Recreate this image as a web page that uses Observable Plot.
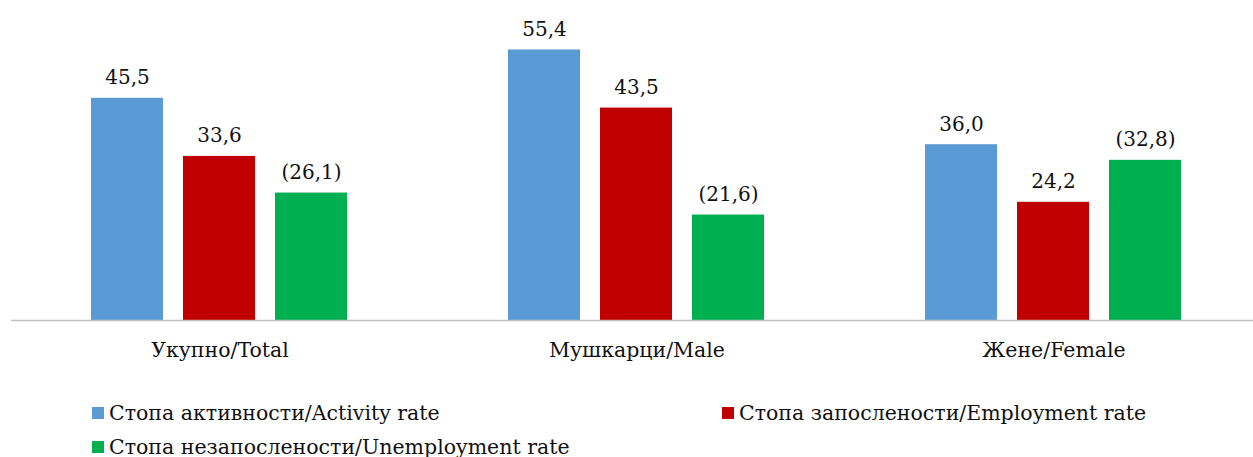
<!DOCTYPE html>
<html>
<head>
<meta charset="utf-8">
<script src="https://cdn.jsdelivr.net/npm/d3@7"></script>
<script src="https://cdn.jsdelivr.net/npm/@observablehq/plot@0.6"></script>
<style>
  html, body { margin: 0; padding: 0; background: #fff; }
  body { width: 1253px; height: 457px; overflow: hidden; font-family: "DejaVu Serif", serif; }
  #legend { display: grid; grid-template-columns: 630px auto; padding-left: 92px; margin-top: 21px; font-size: 20.5px; color: #111; }
  .item { display: flex; align-items: center; height: 34px; white-space: nowrap; }
  .sw { width: 12px; height: 12px; margin-right: 5px; }
</style>
</head>
<body>
<div id="chart"></div>
<div id="legend"></div>
<script>
const categories = ["Укупно/Total", "Мушкарци/Male", "Жене/Female"];
const seriesNames = ["Стопа активности/Activity rate", "Стопа запослености/Employment rate", "Стопа незапослености/Unemployment rate"];
const seriesKeys = ["activity", "employment", "unemployment"];
const colors = ["#5B9BD5", "#C00000", "#00B050"];
const activity = [45.5, 55.4, 36.0];
const employment = [33.6, 43.5, 24.2];
const unemployment = [26.1, 21.6, 32.8];

const valuesBySeries = [activity, employment, unemployment];
const data = [];
categories.forEach((c, i) => {
  seriesKeys.forEach((k, j) => {
    data.push({category: c, series: k, value: valuesBySeries[j][i],
      label: (k === "unemployment" ? "(" : "") + valuesBySeries[j][i].toFixed(1).replace(".", ",") + (k === "unemployment" ? ")" : "")});
  });
});

const chart = Plot.plot({
  width: 1253,
  height: 375,
  marginLeft: 10,
  marginRight: -9.5,
  marginTop: 27,
  marginBottom: 55,
  style: {fontFamily: "DejaVu Serif, serif", fontSize: "20.5px", color: "#111", overflow: "hidden"},
  fx: {domain: categories, padding: 0, label: null},
  x: {domain: seriesKeys, paddingInner: 0.216, paddingOuter: 0.862, axis: null},
  y: {domain: [0, 60], axis: null},
  color: {domain: seriesKeys, range: colors},
  marks: [
    Plot.barY(data, {fx: "category", x: "series", y: "value", fill: "series"}),
    Plot.ruleY([0], {stroke: "#BFBFBF", strokeWidth: 1.5}),
    Plot.text(data, {fx: "category", x: "series", y: "value", text: "label", dy: -14, lineAnchor: "bottom", fill: "#111", fontSize: 20}),
    Plot.axisFx({anchor: "bottom", tickSize: 0, tickPadding: 22, fontSize: 20.5, label: null})
  ]
});
document.getElementById("chart").appendChild(chart);

const legend = document.getElementById("legend");
seriesNames.forEach((n, i) => {
  const it = document.createElement("div");
  it.className = "item";
  it.innerHTML = `<span class="sw" style="background:${colors[i]}"></span><span>${n}</span>`;
  legend.appendChild(it);
});
</script>
</body>
</html>
